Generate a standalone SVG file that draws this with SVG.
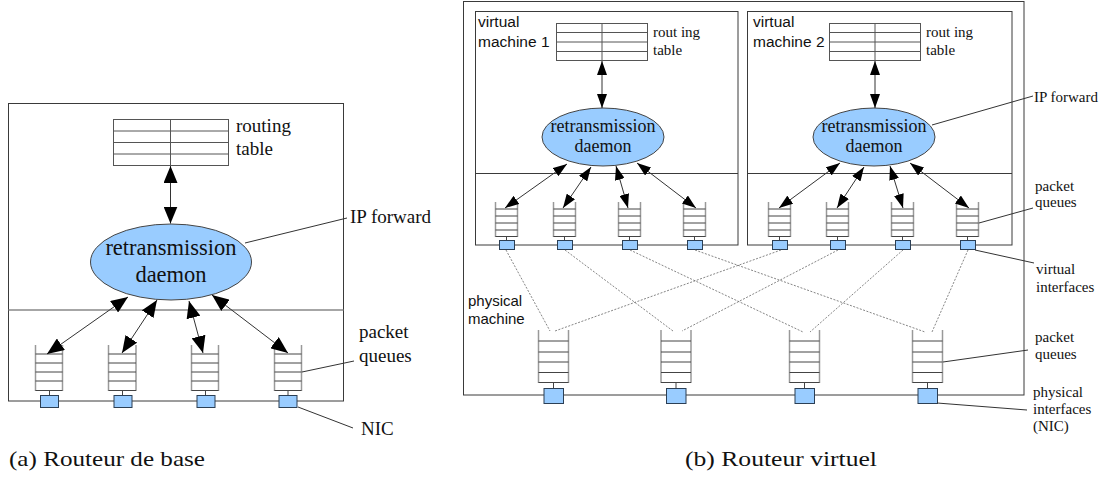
<svg xmlns="http://www.w3.org/2000/svg" width="1108" height="479" viewBox="0 0 1108 479">
<style>
.box{fill:none;stroke:#3a3a3a;stroke-width:1}
.div{stroke:#3a3a3a;stroke-width:1}
.tbl{fill:#fff;stroke:#555;stroke-width:1}
.tl{stroke:#555;stroke-width:1}
.ell{fill:#99ccff;stroke:#444;stroke-width:1}
.nic{fill:#99ccff;stroke:#2b3f55;stroke-width:1}
.qs{stroke:#999;stroke-width:1.5}
.qh{stroke:#444;stroke-width:1}
.stem{stroke:#444;stroke-width:1}
.arr{stroke:#333;stroke-width:1;fill:none}
.lead{stroke:#333;stroke-width:1;fill:none}
.dash{stroke:#666;stroke-width:0.8;stroke-dasharray:2 1.5;fill:none}
.serif{font-family:"Liberation Serif","Times New Roman",serif;fill:#111}
.sans{font-family:"Liberation Sans",Arial,sans-serif;fill:#111}
</style>
<defs>
<marker id="ahL" markerUnits="userSpaceOnUse" markerWidth="17" markerHeight="14" refX="17" refY="7" orient="auto-start-reverse"><path d="M0,0 L17,7 L0,14 z" fill="#000"/></marker>
<marker id="ahS" markerUnits="userSpaceOnUse" markerWidth="14" markerHeight="10" refX="14" refY="5" orient="auto-start-reverse"><path d="M0,0 L14,5 L0,10 z" fill="#000"/></marker>
</defs>
<rect width="1108" height="479" fill="#fff"/>

<!-- ===== (a) basic router ===== -->
<g id="a-frame">
<rect class="box" x="8.5" y="103.5" width="335" height="297.5"/>
<line x1="8.5" y1="310" x2="343.5" y2="310" stroke="#888" stroke-width="1.5"/>
</g>
<g id="a-table">
<rect class="tbl" x="113.5" y="119.5" width="115" height="46"/>
<line class="tl" x1="113.5" y1="131" x2="228.5" y2="131"/>
<line class="tl" x1="113.5" y1="142.5" x2="228.5" y2="142.5"/>
<line class="tl" x1="113.5" y1="154" x2="228.5" y2="154"/>
<line class="tl" x1="170.5" y1="119.5" x2="170.5" y2="165.5"/>
<text class="serif" x="236" y="132" font-size="19">routing</text>
<text class="serif" x="236" y="155" font-size="19">table</text>
</g>
<g id="a-daemon">
<ellipse class="ell" cx="171" cy="262" rx="80.5" ry="38"/>
<text class="serif" x="171" y="255" font-size="22.5" text-anchor="middle">retransmission</text>
<text class="serif" x="171" y="282" font-size="22.5" text-anchor="middle">daemon</text>
<text class="serif" x="350" y="223" font-size="19">IP forward</text>
</g>
<g id="a-queues">
<g id="a-q1"><line class="qs" x1="35.5" y1="345" x2="35.5" y2="391"/><line class="qs" x1="62.5" y1="345" x2="62.5" y2="391"/>
<line class="qh" x1="35.5" y1="354" x2="62.5" y2="354"/><line class="qh" x1="35.5" y1="363" x2="62.5" y2="363"/><line class="qh" x1="35.5" y1="372" x2="62.5" y2="372"/><line class="qh" x1="35.5" y1="381" x2="62.5" y2="381"/><line class="qh" x1="35.5" y1="390.5" x2="62.5" y2="390.5"/>
<line class="stem" x1="49.5" y1="391" x2="49.5" y2="395"/><rect class="nic" x="40.5" y="395.5" width="18" height="12"/></g>
<g id="a-q2"><line class="qs" x1="108.5" y1="345" x2="108.5" y2="391"/><line class="qs" x1="136" y1="345" x2="136" y2="391"/>
<line class="qh" x1="108.5" y1="354" x2="136" y2="354"/><line class="qh" x1="108.5" y1="363" x2="136" y2="363"/><line class="qh" x1="108.5" y1="372" x2="136" y2="372"/><line class="qh" x1="108.5" y1="381" x2="136" y2="381"/><line class="qh" x1="108.5" y1="390.5" x2="136" y2="390.5"/>
<line class="stem" x1="122.5" y1="391" x2="122.5" y2="395"/><rect class="nic" x="114" y="395.5" width="18" height="12"/></g>
<g id="a-q3"><line class="qs" x1="191.5" y1="345" x2="191.5" y2="391"/><line class="qs" x1="218.5" y1="345" x2="218.5" y2="391"/>
<line class="qh" x1="191.5" y1="354" x2="218.5" y2="354"/><line class="qh" x1="191.5" y1="363" x2="218.5" y2="363"/><line class="qh" x1="191.5" y1="372" x2="218.5" y2="372"/><line class="qh" x1="191.5" y1="381" x2="218.5" y2="381"/><line class="qh" x1="191.5" y1="390.5" x2="218.5" y2="390.5"/>
<line class="stem" x1="205.5" y1="391" x2="205.5" y2="395"/><rect class="nic" x="197" y="395.5" width="18" height="12"/></g>
<g id="a-q4"><line class="qs" x1="274.5" y1="345" x2="274.5" y2="391"/><line class="qs" x1="301.5" y1="345" x2="301.5" y2="391"/>
<line class="qh" x1="274.5" y1="354" x2="301.5" y2="354"/><line class="qh" x1="274.5" y1="363" x2="301.5" y2="363"/><line class="qh" x1="274.5" y1="372" x2="301.5" y2="372"/><line class="qh" x1="274.5" y1="381" x2="301.5" y2="381"/><line class="qh" x1="274.5" y1="390.5" x2="301.5" y2="390.5"/>
<line class="stem" x1="288" y1="391" x2="288" y2="395"/><rect class="nic" x="279" y="395.5" width="18" height="12"/></g>
<text class="serif" x="359" y="338" font-size="19">packet</text>
<text class="serif" x="359" y="361.5" font-size="19">queues</text>
<text class="serif" x="361" y="435" font-size="19">NIC</text>
</g>
<g id="a-connectors">
<line class="arr" x1="170.5" y1="166" x2="170.5" y2="223.5" marker-start="url(#ahL)" marker-end="url(#ahL)"/>
<line class="arr" x1="128" y1="297" x2="47" y2="354" marker-start="url(#ahL)" marker-end="url(#ahL)"/>
<line class="arr" x1="157" y1="300" x2="122" y2="353" marker-start="url(#ahL)" marker-end="url(#ahL)"/>
<line class="arr" x1="189" y1="301" x2="203" y2="353" marker-start="url(#ahL)" marker-end="url(#ahL)"/>
<line class="arr" x1="212" y1="295" x2="288" y2="353" marker-start="url(#ahL)" marker-end="url(#ahL)"/>
<line class="lead" x1="245" y1="243" x2="347" y2="218"/>
<line class="lead" x1="302" y1="372" x2="354" y2="361"/>
<line class="lead" x1="298" y1="407" x2="353" y2="428"/>
</g>
<text id="cap-a" class="serif" x="9" y="466" font-size="21" textLength="196" lengthAdjust="spacingAndGlyphs">(a) Routeur de base</text>

<!-- ===== (b) virtual router ===== -->
<g id="b-frame">
<rect class="box" x="463.5" y="1.5" width="560.5" height="393.5"/>
<text class="sans" x="468" y="306" font-size="15">physical</text>
<text class="sans" x="468" y="324" font-size="15">machine</text>
</g>

<g id="vm1">
<rect class="box" x="475.5" y="11.5" width="262.5" height="233.5"/>
<line class="div" x1="475.5" y1="173.5" x2="738" y2="173.5"/>
<text class="sans" x="478" y="27" font-size="15.5">virtual</text>
<text class="sans" x="478" y="47" font-size="15.5">machine 1</text>
<g id="vm1-table">
<rect class="tbl" x="556.5" y="23.5" width="91" height="37"/>
<line class="tl" x1="556.5" y1="32.5" x2="647.5" y2="32.5"/><line class="tl" x1="556.5" y1="42" x2="647.5" y2="42"/><line class="tl" x1="556.5" y1="51.5" x2="647.5" y2="51.5"/>
<line class="tl" x1="602" y1="23.5" x2="602" y2="60.5"/>
<text class="serif" x="653" y="37" font-size="15">rout ing</text>
<text class="serif" x="653" y="55" font-size="15">table</text>
</g>
<g id="vm1-daemon">
<ellipse class="ell" cx="603" cy="137" rx="61" ry="29"/>
<text class="serif" x="603" y="131.5" font-size="18" text-anchor="middle">retransmission</text>
<text class="serif" x="603" y="152" font-size="18" text-anchor="middle">daemon</text>
</g>
</g>

<g id="vm2">
<rect class="box" x="747.5" y="11.5" width="264.5" height="233.5"/>
<line class="div" x1="747.5" y1="173.5" x2="1012" y2="173.5"/>
<text class="sans" x="753" y="27" font-size="15.5">virtual</text>
<text class="sans" x="753" y="47" font-size="15.5">machine 2</text>
<g id="vm2-table">
<rect class="tbl" x="829.5" y="23.5" width="91" height="37"/>
<line class="tl" x1="829.5" y1="32.5" x2="920.5" y2="32.5"/><line class="tl" x1="829.5" y1="42" x2="920.5" y2="42"/><line class="tl" x1="829.5" y1="51.5" x2="920.5" y2="51.5"/>
<line class="tl" x1="875" y1="23.5" x2="875" y2="60.5"/>
<text class="serif" x="926" y="37" font-size="15">rout ing</text>
<text class="serif" x="926" y="55" font-size="15">table</text>
</g>
<g id="vm2-daemon">
<ellipse class="ell" cx="874" cy="137" rx="61" ry="29"/>
<text class="serif" x="874" y="131.5" font-size="18" text-anchor="middle">retransmission</text>
<text class="serif" x="874" y="152" font-size="18" text-anchor="middle">daemon</text>
</g>
</g>

<defs>
<g id="vq">
<line class="qs" x1="0" y1="202" x2="0" y2="237"/><line class="qs" x1="22" y1="202" x2="22" y2="237"/>
<line class="qh" x1="0" y1="209" x2="22" y2="209"/><line class="qh" x1="0" y1="216" x2="22" y2="216"/><line class="qh" x1="0" y1="223" x2="22" y2="223"/><line class="qh" x1="0" y1="230" x2="22" y2="230"/><line class="qh" x1="0" y1="236.5" x2="22" y2="236.5"/>
<line class="stem" x1="11" y1="237" x2="11" y2="240"/>
<rect class="nic" x="4" y="240.5" width="15" height="9"/>
</g>
<g id="pq">
<line class="qs" x1="0" y1="330" x2="0" y2="383"/><line class="qs" x1="30" y1="330" x2="30" y2="383"/>
<line class="qh" x1="0" y1="341" x2="30" y2="341"/><line class="qh" x1="0" y1="352" x2="30" y2="352"/><line class="qh" x1="0" y1="362" x2="30" y2="362"/><line class="qh" x1="0" y1="372.5" x2="30" y2="372.5"/><line class="qh" x1="0" y1="382.5" x2="30" y2="382.5"/>
<line class="stem" x1="15" y1="383" x2="15" y2="388"/>
<rect class="nic" x="5.5" y="388.5" width="19.5" height="15"/>
</g>
</defs>

<g id="vm1-queues">
<use href="#vq" x="495.5"/><use href="#vq" x="553.5"/><use href="#vq" x="618.5"/><use href="#vq" x="683.5"/>
</g>
<g id="vm2-queues">
<use href="#vq" x="768.5"/><use href="#vq" x="826.5"/><use href="#vq" x="891.5"/><use href="#vq" x="956.5"/>
</g>
<g id="phys-queues">
<use href="#pq" x="538.5"/><use href="#pq" x="661"/><use href="#pq" x="789.5"/><use href="#pq" x="912.5"/>
</g>

<g id="b-labels">
<text class="serif" x="1034" y="102" font-size="15">IP forward</text>
<text class="serif" x="1035" y="191" font-size="15">packet</text>
<text class="serif" x="1035" y="207" font-size="15">queues</text>
<text class="serif" x="1036" y="274" font-size="15">virtual</text>
<text class="serif" x="1036" y="292" font-size="15">interfaces</text>
<text class="serif" x="1035" y="342" font-size="15">packet</text>
<text class="serif" x="1035" y="359" font-size="15">queues</text>
<text class="serif" x="1033" y="397" font-size="15">physical</text>
<text class="serif" x="1033" y="414" font-size="15">interfaces</text>
<text class="serif" x="1033" y="431" font-size="15">(NIC)</text>
</g>

<g id="b-connectors">
<line class="arr" x1="602" y1="61" x2="602" y2="108" marker-start="url(#ahS)" marker-end="url(#ahS)"/>
<line class="arr" x1="875" y1="61" x2="875" y2="108" marker-start="url(#ahS)" marker-end="url(#ahS)"/>
<line class="arr" x1="567" y1="164" x2="505" y2="208" marker-start="url(#ahS)" marker-end="url(#ahS)"/>
<line class="arr" x1="591" y1="167" x2="563" y2="208" marker-start="url(#ahS)" marker-end="url(#ahS)"/>
<line class="arr" x1="616" y1="166" x2="628" y2="208" marker-start="url(#ahS)" marker-end="url(#ahS)"/>
<line class="arr" x1="637" y1="163" x2="696" y2="208" marker-start="url(#ahS)" marker-end="url(#ahS)"/>
<line class="arr" x1="840" y1="163" x2="779" y2="208" marker-start="url(#ahS)" marker-end="url(#ahS)"/>
<line class="arr" x1="864" y1="167" x2="837" y2="208" marker-start="url(#ahS)" marker-end="url(#ahS)"/>
<line class="arr" x1="890" y1="166" x2="903" y2="208" marker-start="url(#ahS)" marker-end="url(#ahS)"/>
<line class="arr" x1="910" y1="163" x2="969" y2="208" marker-start="url(#ahS)" marker-end="url(#ahS)"/>
<line class="dash" x1="506" y1="250" x2="550" y2="331"/>
<line class="dash" x1="565" y1="250" x2="673" y2="331"/>
<line class="dash" x1="630" y1="250" x2="803" y2="332"/>
<line class="dash" x1="695" y1="250" x2="925" y2="332"/>
<line class="dash" x1="781" y1="250" x2="555" y2="331"/>
<line class="dash" x1="838" y1="250" x2="682" y2="331"/>
<line class="dash" x1="903" y1="250" x2="810" y2="332"/>
<line class="dash" x1="968" y1="250" x2="932" y2="332"/>
<line class="lead" x1="932" y1="125" x2="1033" y2="96"/>
<line class="lead" x1="979" y1="223" x2="1033" y2="208"/>
<line class="lead" x1="975" y1="250" x2="1034" y2="263"/>
<line class="lead" x1="943" y1="362" x2="1028" y2="350"/>
<line class="lead" x1="937" y1="403" x2="1027" y2="410"/>
</g>
<text id="cap-b" class="serif" x="685" y="466" font-size="21" textLength="192" lengthAdjust="spacingAndGlyphs">(b) Routeur virtuel</text>
</svg>
